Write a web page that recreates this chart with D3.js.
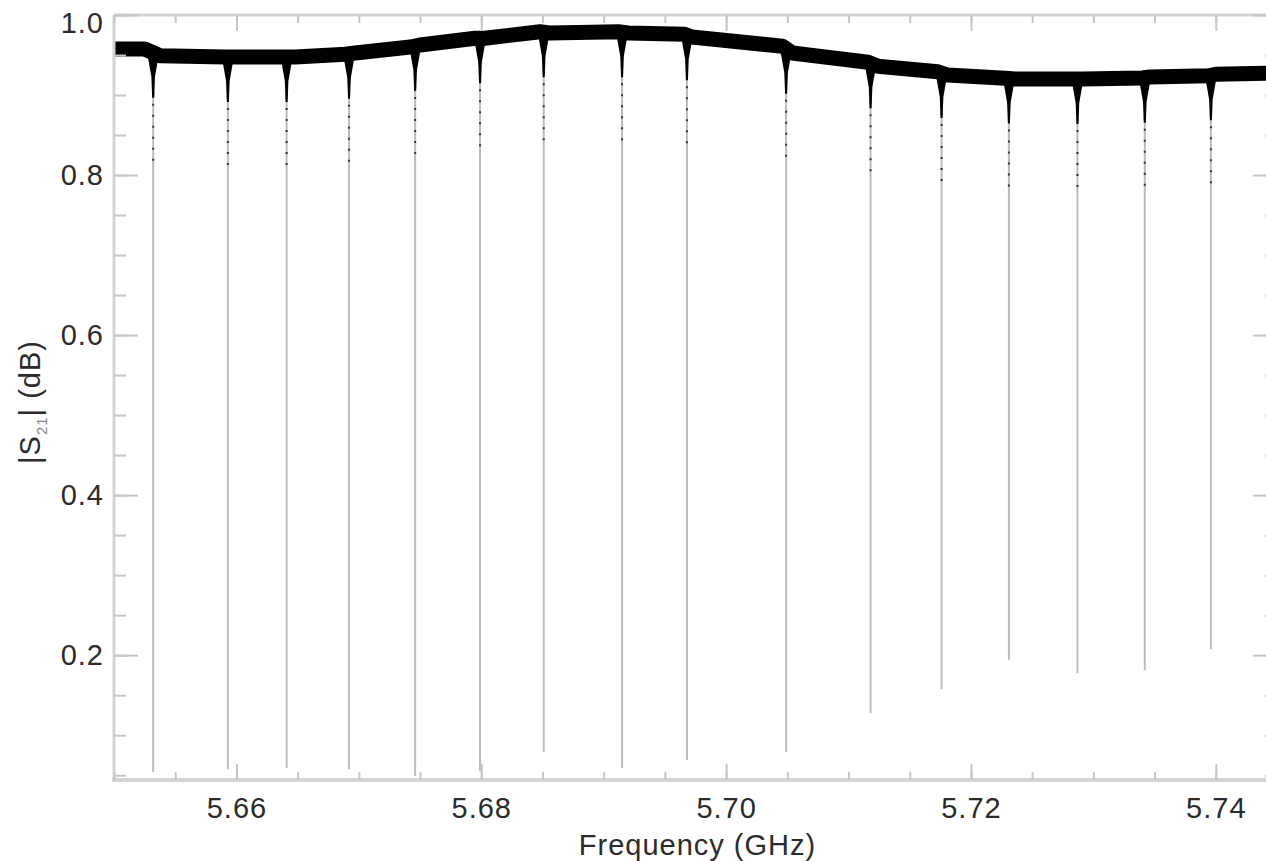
<!DOCTYPE html>
<html>
<head>
<meta charset="utf-8">
<script src="https://cdn.jsdelivr.net/npm/d3@7/dist/d3.min.js"></script>
<style>
  body { margin: 0; background: #fff; }
  text { font-family: "Liberation Sans", Arial, Helvetica, sans-serif; }
</style>
</head>
<body>
<svg id="chart" width="1266" height="861"></svg>
<script>
// baseline of |S21| between the resonances (GHz, value)
const baseFreq = [5.6500, 5.6525, 5.6538, 5.6591, 5.6599, 5.6640, 5.6648, 5.6689, 5.6697, 5.6742,
                  5.6750, 5.6795, 5.6803, 5.6848, 5.6856, 5.6912, 5.6920, 5.6966, 5.6972, 5.7046,
                  5.7054, 5.7116, 5.7124, 5.7173, 5.7181, 5.7228, 5.7236, 5.7284, 5.7291, 5.7340,
                  5.7346, 5.7394, 5.7400, 5.7450];
const baseVal  = [0.9575, 0.9575, 0.949, 0.9475, 0.9475, 0.9475, 0.9475, 0.951, 0.9525, 0.960,
                  0.9625, 0.971, 0.971, 0.979, 0.9775, 0.979, 0.9775, 0.976, 0.9725, 0.961,
                  0.9525, 0.941, 0.936, 0.929, 0.925, 0.921, 0.920, 0.920, 0.920, 0.9213,
                  0.9225, 0.924, 0.926, 0.9275];

// resonance dips: centre frequency and minimum value
const dipFreq = [5.6532, 5.6593, 5.6641, 5.6692, 5.6746, 5.6799, 5.6851, 5.6915,
                 5.6968, 5.7049, 5.7118, 5.7176, 5.7231, 5.7287, 5.7342, 5.7396];
const dipMin  = [0.054, 0.0575, 0.059, 0.0575, 0.049, 0.055, 0.079, 0.059,
                 0.069, 0.079, 0.1275, 0.1575, 0.194, 0.1775, 0.181, 0.2075];

const xTicks = [5.66, 5.68, 5.70, 5.72, 5.74];
const yTicks = [0.2, 0.4, 0.6, 0.8, 1.0];

const svg = d3.select("#chart");
const plotL = 114, plotR = 1277, plotT = 15, plotB = 780;

const x = d3.scaleLinear().domain([5.65, 5.745]).range([plotL, plotR]);
const y = d3.scaleLinear().domain([0.044, 1.0]).range([plotB, plotT]);
const baseAt = d3.scaleLinear().domain(baseFreq).range(baseVal);

const tickColor = "#c6c6c6";
const frameColor = "#d4d4d4";
const labelColor = "#2b2b2b";

// dips (thin grey lines)
const dips = svg.append("g");
dipFreq.forEach((f, i) => {
    const xf = x(f), yb = y(baseAt(f));
    dips.append("line")
        .attr("x1", xf).attr("x2", xf)
        .attr("y1", yb).attr("y2", y(dipMin[i]))
        .attr("stroke", "#bcbcbc")
        .attr("stroke-width", 2);
    dips.append("line")
        .attr("x1", xf).attr("x2", xf)
        .attr("y1", yb + 40).attr("y2", yb + 110)
        .attr("stroke", "#333")
        .attr("stroke-width", 2)
        .attr("stroke-dasharray", "2,9");
});

// baseline band
const line = d3.line()
    .x(i => x(baseFreq[i]))
    .y(i => y(baseVal[i]));

svg.append("path")
    .attr("d", line(d3.range(baseFreq.length)))
    .attr("fill", "none")
    .attr("stroke", "#000")
    .attr("stroke-width", 15)
    .attr("stroke-linejoin", "round");

// dark tapered spike at the top of each dip
dipFreq.forEach(f => {
    const xf = x(f), yb = y(baseAt(f));
    const p = d3.path();
    p.moveTo(xf - 6, yb);
    p.lineTo(xf + 6, yb);
    p.lineTo(xf + 1.8, yb + 24);
    p.lineTo(xf + 1, yb + 45);
    p.lineTo(xf - 1, yb + 45);
    p.lineTo(xf - 1.8, yb + 24);
    p.closePath();
    svg.append("path").attr("d", p.toString()).attr("fill", "#000");
});

// frame
const frame = svg.append("g").attr("stroke", frameColor);
frame.append("line").attr("x1", plotL).attr("x2", plotL).attr("y1", plotT).attr("y2", plotB).attr("stroke-width", 3);
frame.append("line").attr("x1", plotR).attr("x2", plotR).attr("y1", plotT).attr("y2", plotB).attr("stroke-width", 3);
frame.append("line").attr("x1", plotL).attr("x2", plotR).attr("y1", plotT).attr("y2", plotT).attr("stroke-width", 3);
frame.append("line").attr("x1", plotL - 2).attr("x2", plotR).attr("y1", plotB).attr("y2", plotB).attr("stroke-width", 4);

function styleAxis(g) {
    g.select(".domain").remove();
    g.selectAll(".tick line").attr("stroke", tickColor).attr("stroke-width", 2);
    g.selectAll(".tick text")
        .attr("fill", labelColor)
        .style("font-size", "29px")
        .style("letter-spacing", "1px");
}

// minor ticks
svg.append("g").attr("transform", `translate(0,${plotB})`)
    .call(d3.axisBottom(x).ticks(20).tickSize(-8).tickFormat("")).call(styleAxis);
svg.append("g").attr("transform", `translate(0,${plotT})`)
    .call(d3.axisTop(x).ticks(20).tickSize(-8).tickFormat("")).call(styleAxis);
svg.append("g").attr("transform", `translate(${plotL},0)`)
    .call(d3.axisLeft(y).ticks(20).tickSize(-12).tickFormat("")).call(styleAxis);
svg.append("g").attr("transform", `translate(${plotR},0)`)
    .call(d3.axisRight(y).ticks(20).tickSize(-12).tickFormat("")).call(styleAxis);

// major ticks
svg.append("g").attr("transform", `translate(0,${plotB})`)
    .call(d3.axisBottom(x).tickValues(xTicks).tickSize(-16).tickPadding(17).tickFormat(d3.format(".2f")))
    .call(styleAxis);
svg.append("g").attr("transform", `translate(0,${plotT})`)
    .call(d3.axisTop(x).tickValues(xTicks).tickSize(-16).tickFormat("")).call(styleAxis);
const yAxisG = svg.append("g").attr("transform", `translate(${plotL},0)`)
    .call(d3.axisLeft(y).tickValues(yTicks).tickSize(-24).tickPadding(10).tickFormat(d3.format(".1f")))
    .call(styleAxis);
yAxisG.selectAll(".tick text").filter(d => d === 1.0).attr("dy", "0.6em");
svg.append("g").attr("transform", `translate(${plotR},0)`)
    .call(d3.axisRight(y).tickValues(yTicks).tickSize(-24).tickFormat("")).call(styleAxis);

// axis titles
svg.append("text")
    .attr("x", (plotL + plotR) / 2 + 2)
    .attr("y", 855)
    .attr("text-anchor", "middle")
    .attr("fill", labelColor)
    .style("font-size", "29px")
    .style("letter-spacing", "1px")
    .text("Frequency (GHz)");

const yTitle = svg.append("text")
    .attr("transform", "translate(40,402) rotate(-90)")
    .attr("text-anchor", "middle")
    .attr("fill", labelColor)
    .style("font-size", "29px")
    .style("letter-spacing", "1px");
yTitle.append("tspan").text("|S");
yTitle.append("tspan").attr("dy", 7).style("font-size", "15px").attr("fill", "#888").text("21");
yTitle.append("tspan").attr("dy", -7).text("| (dB)");
</script>
</body>
</html>
